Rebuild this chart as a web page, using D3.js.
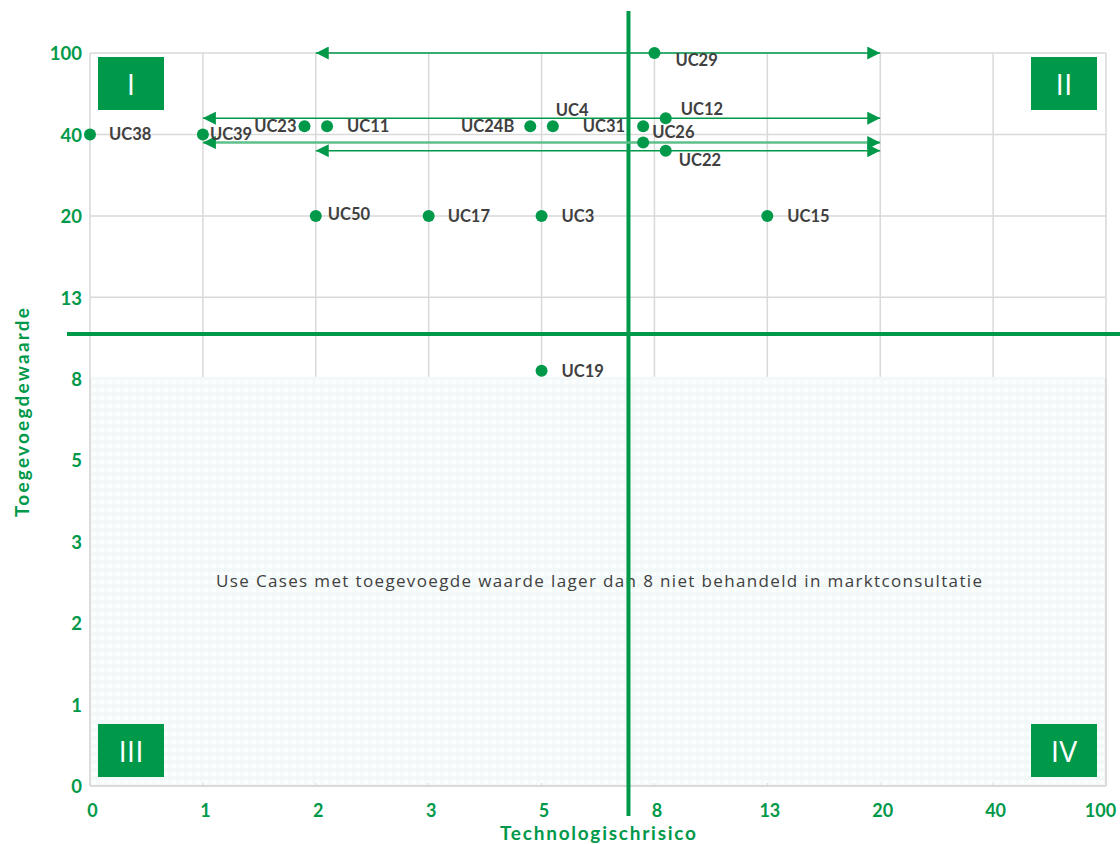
<!DOCTYPE html>
<html><head><meta charset="utf-8">
<script src="https://cdn.jsdelivr.net/npm/d3@7/dist/d3.min.js"></script>
<style>
html,body{margin:0;padding:0;background:#fff;}
svg{display:block;font-family:Lato, "Open Sans", sans-serif;}
</style></head>
<body><svg id="chart" width="1120" height="844"></svg>
<script>
// ---- data ----
const tickLabels = ["0","1","2","3","5","8","13","20","40","100"];
// use cases: position on the ordinal scales (index into tickLabels, with small offsets for overlaps)
const useCases = ["UC38","UC39","UC23","UC11","UC24B","UC4","UC31","UC12","UC26","UC22","UC29","UC50","UC17","UC3","UC15","UC19"];
const riskIdx  = [0, 1, 1.9, 2.1, 3.9, 4.1, 4.9, 5.1, 4.9, 5.1, 5, 2, 3, 4, 6, 4];
const valueIdx = [8, 8, 8.1, 8.1, 8.1, 8.1, 8.1, 8.2, 7.9, 7.8, 9, 7, 7, 7, 7, 5.1];
// uncertainty ranges (risk index from..to) for some use cases
const rangeCases = ["UC29","UC12","UC26","UC22"];
const rangeFrom  = [2, 1, 1, 2];
const rangeTo    = [7, 7, 7, 7];
const riskThreshold = 4.77;
const valueThreshold = 5.55;
const lowValueLimit = 5; // index of "8"
const quadrants = ["I","II","III","IV"];
const note = "Use Cases met toegevoegde  waarde lager dan 8 niet behandeld in marktconsultatie";

// ---- layout ----
const GREEN = "#00994A", GRID = "#d9d9d9", TEXT = "#404040";
const svg = d3.select("#chart");
const x = d3.scaleLinear().domain([0, 9]).range([90, 1106]);
const y = d3.scaleLinear().domain([0, 9]).range([786, 53]);

const defs = svg.append("defs");
const pat = defs.append("pattern").attr("id","chk").attr("patternUnits","userSpaceOnUse")
  .attr("width",8).attr("height",8);
pat.append("rect").attr("width",8).attr("height",8).attr("fill","#fcfefe");
pat.append("rect").attr("width",8).attr("height",4).attr("fill","#f3f9f9");
pat.append("rect").attr("width",4).attr("height",8).attr("fill","#f3f9f9").attr("opacity",0.7);
defs.append("marker").attr("id","arrowEnd").attr("viewBox","0 0 10 10").attr("refX",10).attr("refY",5)
  .attr("markerUnits","userSpaceOnUse").attr("markerWidth",13).attr("markerHeight",13).attr("orient","auto-start-reverse")
  .append("path").attr("d","M0,0L10,5L0,10Z").attr("fill",GREEN);

const idx = d3.range(tickLabels.length);
// gridlines
svg.append("g").selectAll("line").data(idx).join("line")
  .attr("x1",d=>x(d)).attr("x2",d=>x(d)).attr("y1",y(9)).attr("y2",y(0))
  .attr("stroke",GRID).attr("stroke-width",1.5);
svg.append("g").selectAll("line").data(idx).join("line")
  .attr("x1",x(0)).attr("x2",x(9)).attr("y1",d=>y(d)).attr("y2",d=>y(d))
  .attr("stroke",GRID).attr("stroke-width",1.5);

// shaded low-value area
svg.append("rect").attr("x",x(0)+1).attr("y",y(lowValueLimit)-2).attr("width",x(9)-x(0)-2)
  .attr("height",y(0)-y(lowValueLimit)+1).attr("fill","url(#chk)");
svg.append("line").attr("x1",x(0)).attr("x2",x(9)).attr("y1",y(0)).attr("y2",y(0)).attr("stroke",GRID).attr("stroke-width",1.5);
svg.append("line").attr("x1",x(0)).attr("x2",x(0)).attr("y1",y(lowValueLimit)).attr("y2",y(0)).attr("stroke",GRID).attr("stroke-width",1.5);
svg.append("line").attr("x1",x(9)).attr("x2",x(9)).attr("y1",y(lowValueLimit)).attr("y2",y(0)).attr("stroke",GRID).attr("stroke-width",1.5);
svg.append("g").selectAll("line").data(idx).join("line")
  .attr("x1",d=>x(d)).attr("x2",d=>x(d)).attr("y1",y(0)-3).attr("y2",y(0)).attr("stroke",GRID).attr("stroke-width",1);

svg.append("text").attr("x",216).attr("y",587).attr("textLength",766).attr("lengthAdjust","spacing")
  .attr("font-family","'Open Sans', sans-serif").attr("font-size",17).attr("fill",TEXT).text(note);

// axes
const xAxis = d3.axisBottom(x).tickValues(idx).tickFormat(i=>tickLabels[i]).tickSize(0).tickPadding(0);
const gx = svg.append("g").attr("transform",`translate(0,${y(0)})`).call(xAxis);
gx.select(".domain").remove();
gx.selectAll("text").attr("dy",null).attr("y",31).attr("font-size",18).attr("font-weight","bold")
  .attr("fill",GREEN).attr("font-family","Lato, sans-serif")
  .attr("x",(d,i,n)=> i===n.length-1 ? -6 : 2);
const yAxis = d3.axisLeft(y).tickValues(idx).tickFormat(i=>tickLabels[i]).tickSize(0).tickPadding(0);
const gy = svg.append("g").attr("transform",`translate(82,0)`).call(yAxis);
gy.select(".domain").remove();
gy.selectAll("text").attr("dy","0.36em").attr("x",0).attr("font-size",18.5).attr("font-weight","bold")
  .attr("fill",GREEN).attr("font-family","Lato, sans-serif");

svg.append("text").attr("x",500).attr("y",840).attr("textLength",196).attr("lengthAdjust","spacing")
  .attr("font-size",19).attr("font-weight","bold").attr("fill",GREEN).text("Technologischrisico");
svg.append("text").attr("transform","translate(29,517) rotate(-90)").attr("textLength",209).attr("lengthAdjust","spacing")
  .attr("font-size",19).attr("font-weight","bold").attr("fill",GREEN).text("Toegevoegdewaarde");

// threshold lines
svg.append("line").attr("x1",x(riskThreshold)).attr("x2",x(riskThreshold)).attr("y1",11).attr("y2",816)
  .attr("stroke",GREEN).attr("stroke-width",4);
svg.append("line").attr("x1",67).attr("x2",1120).attr("y1",y(valueThreshold)).attr("y2",y(valueThreshold))
  .attr("stroke",GREEN).attr("stroke-width",4);

// quadrant labels
const qBoxes = [[x(0)+8, y(9)+4],[x(9)-75, y(9)+4],[x(0)+8, y(0)-62],[x(9)-75, y(0)-62]];
quadrants.forEach((q,i)=>{
  const [bx,by]=qBoxes[i];
  svg.append("rect").attr("x",bx).attr("y",by).attr("width",66).attr("height",53).attr("fill",GREEN);
  svg.append("text").attr("x",bx+33).attr("y",by+27).attr("dy","0.36em").attr("text-anchor","middle")
    .attr("font-family","'Open Sans', sans-serif").attr("font-size",30).attr("fill","#fff").text(q);
});

// range arrows
rangeCases.forEach((c,i)=>{
  const j = useCases.indexOf(c);
  svg.append("line").attr("x1",x(rangeFrom[i])).attr("x2",x(rangeTo[i]))
    .attr("y1",y(valueIdx[j])).attr("y2",y(valueIdx[j]))
    .attr("stroke", c==="UC26" ? "#5fbf8a" : GREEN).attr("stroke-width", c==="UC26" ? 2.5 : 1.5)
    .attr("marker-start","url(#arrowEnd)").attr("marker-end","url(#arrowEnd)");
});

// points
const pts = useCases.map((n,i)=>({n, x:riskIdx[i], y:valueIdx[i]}));
svg.append("g").selectAll("circle").data(pts).join("circle")
  .attr("cx",d=>x(d.x)).attr("cy",d=>y(d.y)).attr("r",6).attr("fill",GREEN);

// label placement (layout only)
const place = {
  UC38:[19,0,"start"], UC39:[7,0,"start"], UC23:[-8,0,"end"], UC11:[20,0,"start"],
  UC24B:[-16,0,"end"], UC4:[3,-16,"start"], UC31:[-18,0,"end"], UC12:[15,-9,"start"],
  UC26:[9,-11,"start"], UC22:[13,9,"start"], UC29:[21,7,"start"], UC50:[12,-2,"start"],
  UC17:[19,0,"start"], UC3:[20,0,"start"], UC15:[20,0,"start"], UC19:[20,0,"start"]
};
svg.append("g").selectAll("text").data(pts).join("text")
  .attr("x",d=>x(d.x)+place[d.n][0]).attr("y",d=>y(d.y)+place[d.n][1]).attr("dy","0.36em")
  .attr("text-anchor",d=>place[d.n][2]).attr("font-size",16.5).attr("font-weight","bold")
  .attr("fill",TEXT).text(d=>d.n);
</script></body></html>
